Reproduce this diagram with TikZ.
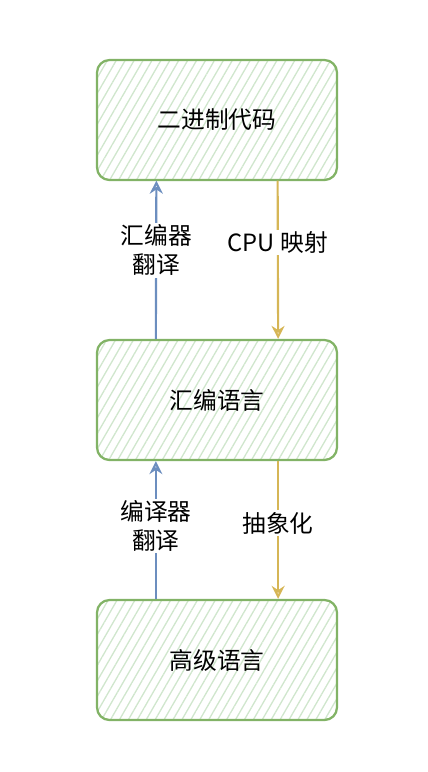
\documentclass[tikz,border=0pt]{standalone}
\usepackage{fontspec}
\setmainfont{Noto Sans CJK SC}
\usepackage{tikz}
\usetikzlibrary{calc,positioning,arrows.meta,patterns.meta}
\usepackage{xcolor}
\definecolor{mygreen}{RGB}{130,179,102}
\definecolor{mylightgreen}{RGB}{208,230,205}
\definecolor{myblue}{RGB}{108,142,191}
\definecolor{myyellow}{RGB}{214,182,86}

\begin{document}
\begin{tikzpicture}[x=0.02cm,y=-0.02cm,
  block/.style={draw=mygreen, line width=1.3pt, rounded corners=0.25cm,
    pattern={Lines[angle=60,distance=4.4pt,line width=0.75pt]}, pattern color=mylightgreen,
    minimum width=4.8cm, minimum height=2.4cm, font=\fontsize{13.5}{17}\selectfont},
  up/.style={myblue, line width=1.2pt, -{Stealth[open,length=0.26cm,width=0.26cm]}},
  down/.style={myyellow, line width=1.2pt, -{Stealth[open,length=0.26cm,width=0.26cm]}},
  lbl/.style={fill=white, text=black, inner sep=1pt, align=center, font=\fontsize{13.5}{16.5}\selectfont}]
  \useasboundingbox (0,0) rectangle (428,772);
  \node[block] (bin) at (217,120) {二进制代码};
  \node[block] (asm) at (217,400) {汇编语言};
  \node[block] (high) at (217,660) {高级语言};

  \draw[up] ([xshift=1.2cm]asm.north west) -- ([xshift=1.2cm]bin.south west)
    node[lbl,pos=0.56] {汇编器\\翻译};
  \draw[down] ([xshift=-1.2cm]bin.south east) -- ([xshift=-1.2cm]asm.north east)
    node[lbl,pos=0.39] {CPU 映射};

  \draw[up] ([xshift=1.2cm]high.north west) -- ([xshift=1.2cm]asm.south west)
    node[lbl,pos=0.53] {编译器\\翻译};
  \draw[down] ([xshift=-1.2cm]asm.south east) -- ([xshift=-1.2cm]high.north east)
    node[lbl,pos=0.45] {抽象化};
\end{tikzpicture}
\end{document}
